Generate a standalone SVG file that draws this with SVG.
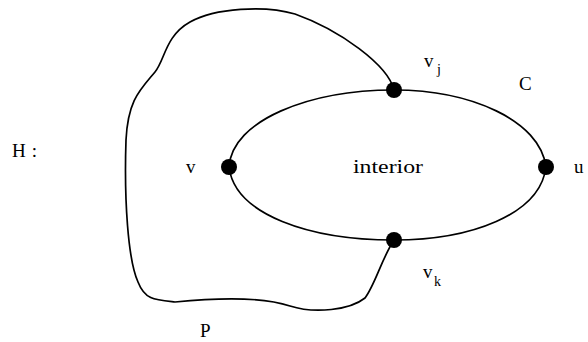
<svg xmlns="http://www.w3.org/2000/svg" width="588" height="342" viewBox="0 0 588 342">
<style>
.edge{fill:none;stroke:#000;stroke-width:1.7;stroke-linejoin:round;stroke-linecap:round}
.node{fill:#000}
.lbl{font-family:"Liberation Serif","DejaVu Serif",serif;font-size:19px;fill:#000}
.sub{font-family:"Liberation Serif","DejaVu Serif",serif;font-size:14px;fill:#000}
.int{font-family:"Liberation Serif","DejaVu Serif",serif;font-size:18px;fill:#000}
</style>
<rect width="588" height="342" fill="#fff"/>
<g id="connectors">
<path id="cycle-C" class="edge" d="M229,167 C232,120 310,90 394,90 C470,90 540,120 546,167 C540,215 470,240 394,240 C310,240 235,215 229,167 Z"/>
<path id="path-P" class="edge" d="M394,90 C388,65 340,30 295,14 C265,5 215,8 190,22 C165,36 165,60 155,72 C140,90 128,100 126,140 C124,200 128,260 138,282 C145,300 155,300 175,302 C215,298 260,296 290,306 C315,314 350,310 365,298 C375,285 382,258 394,240"/>
</g>
<g id="node-v"><circle class="node" cx="229" cy="167" r="8"/><text class="lbl" x="186" y="173">v</text></g>
<g id="node-u"><circle class="node" cx="546" cy="167" r="8"/><text class="lbl" x="574" y="173">u</text></g>
<g id="node-vj"><circle class="node" cx="394" cy="90" r="8"/><text class="lbl" x="424" y="67">v</text><text class="sub" x="437" y="74">j</text></g>
<g id="node-vk"><circle class="node" cx="394" cy="240" r="8"/><text class="lbl" x="423" y="278">v</text><text class="sub" x="434" y="286">k</text></g>
<g id="labels">
<text class="lbl" x="12" y="157" letter-spacing="6">H:</text>
<text class="lbl" x="519" y="90">C</text>
<text class="lbl" x="200" y="337">P</text>
<text class="int" x="353" y="173" textLength="70" lengthAdjust="spacingAndGlyphs">interior</text>
</g>
</svg>
